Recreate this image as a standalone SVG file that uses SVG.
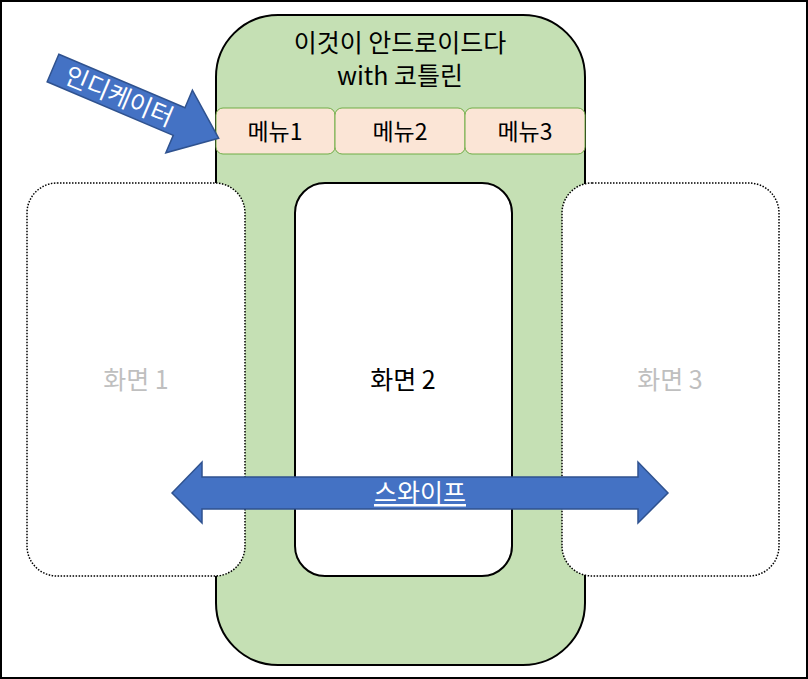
<svg xmlns="http://www.w3.org/2000/svg" width="808" height="679" viewBox="0 0 808 679">
<style>
text{font-family:"Noto Sans CJK KR","Noto Sans",sans-serif;text-anchor:middle}
.menu{fill:#fbe5d6;stroke:#70ad47;stroke-width:1}
.side{fill:#fff;stroke:#000;stroke-width:1.5;stroke-dasharray:1.5 1.5}
.blue{fill:#4472c4;stroke:#2f528f;stroke-width:1.5}
</style>
<rect x="1" y="1" width="806" height="677" fill="#fff" stroke="#000" stroke-width="2"/>
<g id="phone">
<rect x="216" y="15" width="369" height="650" rx="62" fill="#c5e0b4" stroke="#000" stroke-width="2"/>
<text x="400" y="52" font-size="25">이것이 안드로이드다</text>
<text x="400" y="85" font-size="25">with 코틀린</text>
</g>
<g id="menu1"><rect class="menu" x="216" y="108" width="119" height="46" rx="7"/><text x="275" y="140" font-size="23">메뉴1</text></g>
<g id="menu2"><rect class="menu" x="335" y="108" width="130" height="46" rx="7"/><text x="400" y="140" font-size="23">메뉴2</text></g>
<g id="menu3"><rect class="menu" x="465" y="108" width="120" height="46" rx="7"/><text x="525" y="140" font-size="23">메뉴3</text></g>
<g id="screen1"><rect class="side" x="27" y="183" width="218" height="393" rx="30"/><text x="136" y="389" font-size="25" fill="#bfbfbf">화면 1</text></g>
<g id="screen3"><rect class="side" x="562" y="183" width="217" height="393" rx="30"/><text x="670" y="389" font-size="25" fill="#bfbfbf">화면 3</text></g>
<g id="screen2"><rect x="295" y="183" width="217" height="393" rx="30" fill="#fff" stroke="#000" stroke-width="2"/><text x="403" y="389" font-size="25">화면 2</text></g>
<g id="connectors">
<g id="indicator" transform="translate(53,68) rotate(23)">
<polygon class="blue" points="0,-15 137,-15 137,-34 180,0 137,34 137,15 0,15"/>
<text x="72" y="9" font-size="25" fill="#fff">인디케이터</text>
</g>
<g id="swipe">
<polygon class="blue" points="172,493 202,462 202,477 638,477 638,462 668,493 638,523 638,509 202,509 202,523"/>
<text x="420" y="502" font-size="25" fill="#fff" text-decoration="underline">스와이프</text>
</g>
</g>
</svg>
